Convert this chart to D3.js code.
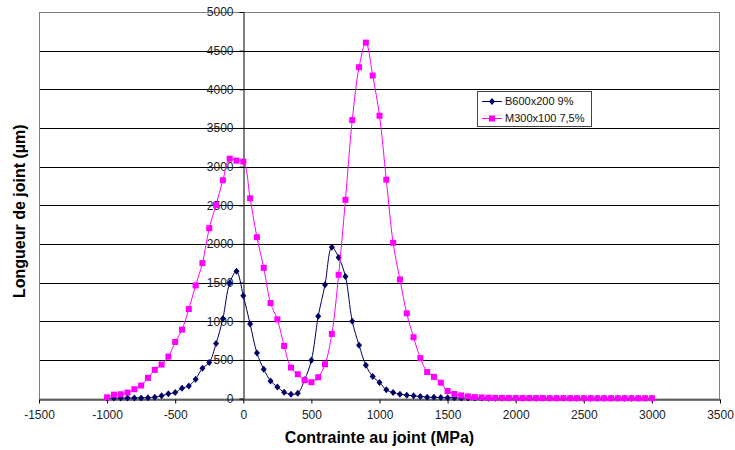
<!DOCTYPE html>
<html>
<head>
<meta charset="utf-8">
<script src="https://cdn.jsdelivr.net/npm/d3@7"></script>
<style>
  html, body { margin: 0; padding: 0; background: #fff; }
  svg { display: block; }
  text { font-family: "Liberation Sans", Arial, sans-serif; }
</style>
</head>
<body>
<svg id="chart" width="735" height="450"></svg>
<script>
// ---- data ----
const stress = [-1000,-950,-900,-850,-800,-750,-700,-650,-600,-550,-500,-450,-400,-350,-300,-250,-200,-150,-100,-50,
  0,50,100,150,200,250,300,350,400,450,500,550,600,650,700,750,800,850,900,950,
  1000,1050,1100,1150,1200,1250,1300,1350,1400,1450,1500,1550,1600,1650,1700,1750,1800,1850,1900,1950,
  2000,2050,2100,2150,2200,2250,2300,2350,2400,2450,2500,2550,2600,2650,2700,2750,2800,2850,2900,2950,3000];

const seriesB = [3,5,5,5,8,8,10,17,35,60,77,133,163,250,392,465,710,1033,1493,1645,
  1330,964,590,379,228,150,82,56,69,241,495,1063,1472,1958,1825,1578,1000,690,430,284,
  207,112,77,56,43,34,26,17,15,12,11,9,8,7,6,5,4,4,4,3,
  3,3,3,3,3,3,2,2,2,2,2,2,2,2,2,2,2,2,2,2,2];

const seriesM = [15,50,55,77,120,168,267,370,439,542,731,891,1157,1463,1751,2203,2504,2823,3102,3077,
  3064,2590,2087,1691,1235,1024,680,400,314,237,211,275,443,835,1600,2570,3602,4286,4604,4178,
  3658,2831,2014,1540,1102,792,522,342,280,205,97,58,40,27,18,14,10,8,7,6,
  6,5,5,5,5,4,4,4,4,4,4,3,3,3,3,3,3,3,3,3,3];

const seriesNames = ["B600x200 9%", "M300x100 7,5%"];
const xTicks = [-1500,-1000,-500,0,500,1000,1500,2000,2500,3000,3500];
const yTicks = [0,500,1000,1500,2000,2500,3000,3500,4000,4500,5000];
const xTitle = "Contrainte au joint (MPa)";
const yTitle = "Longueur de joint (µm)";

// ---- layout ----
const svg = d3.select("#chart");
const L = 39, R = 720, T = 12, B = 398.5;
const x = d3.scaleLinear().domain([-1500, 3500]).range([L, R]);
const y = d3.scaleLinear().domain([0, 5000]).range([B, T]);
const navy = "#000066", magenta = "#FF00FF";

svg.append("rect").attr("width", 735).attr("height", 450).attr("fill", "#fff");

// gridlines
svg.append("g").selectAll("line").data(yTicks.filter(d => d > 0 && d < 5000)).join("line")
  .attr("x1", L).attr("x2", R)
  .attr("y1", d => Math.round(y(d)) + 0.5).attr("y2", d => Math.round(y(d)) + 0.5)
  .attr("stroke", "#000").attr("stroke-width", 1);

// plot border
svg.append("rect").attr("x", L + 0.5).attr("y", T + 0.5)
  .attr("width", R - L - 1).attr("height", B - T)
  .attr("fill", "none").attr("stroke", "#808080").attr("stroke-width", 1);

// axes
const fmt = d => String(d);
const yAxis = d3.axisLeft(y).tickValues(yTicks).tickFormat(fmt).tickSizeInner(4).tickSizeOuter(0).tickPadding(6);
const xAxis = d3.axisBottom(x).tickValues(xTicks).tickFormat(fmt).tickSizeInner(4).tickSizeOuter(0).tickPadding(7);

const gy = svg.append("g").attr("transform", `translate(${Math.round(x(0)) + 0.5},0)`).call(yAxis);
const gx = svg.append("g").attr("transform", `translate(0,${Math.round(y(0)) + 0.5})`).call(xAxis);
[gx, gy].forEach(g => {
  g.select(".domain").attr("stroke", "#000");
  g.selectAll(".tick line").attr("stroke", "#000");
  g.selectAll(".tick text").attr("fill", "#222").style("font-size", "12px")
    .style("font-family", '"Liberation Sans", Arial, sans-serif');
});

// series
const line = d3.line().x((d, i) => x(stress[i])).y(d => y(d)).curve(d3.curveCatmullRom.alpha(0.5));

svg.append("path").datum(seriesB).attr("d", line)
  .attr("fill", "none").attr("stroke", navy).attr("stroke-width", 1);
const diamond = "M0,-3.5L3,0L0,3.5L-3,0Z";
svg.append("g").selectAll("path").data(seriesB).join("path")
  .attr("d", diamond)
  .attr("transform", (d, i) => `translate(${x(stress[i])},${y(d)})`)
  .attr("fill", navy);

svg.append("path").datum(seriesM).attr("d", line)
  .attr("fill", "none").attr("stroke", magenta).attr("stroke-width", 1);
svg.append("g").selectAll("rect").data(seriesM).join("rect")
  .attr("x", (d, i) => x(stress[i]) - 3).attr("y", d => y(d) - 3)
  .attr("width", 6).attr("height", 6)
  .attr("fill", magenta);

// axis titles
svg.append("text").attr("x", (L + R) / 2).attr("y", 443)
  .attr("text-anchor", "middle").attr("font-weight", "bold").attr("font-size", 16)
  .attr("fill", "#000").text(xTitle);
svg.append("text").attr("transform", `translate(25,${(T + B) / 2 + 6}) rotate(-90)`)
  .attr("text-anchor", "middle").attr("font-weight", "bold").attr("font-size", 16)
  .attr("fill", "#000").text(yTitle);

// legend
const lg = svg.append("g");
lg.append("rect").attr("x", 477.5).attr("y", 91.5).attr("width", 114).attr("height", 35)
  .attr("fill", "#fff").attr("stroke", "#444").attr("stroke-width", 1);
const legendRows = [
  { name: seriesNames[0], color: navy, shape: "diamond" },
  { name: seriesNames[1], color: magenta, shape: "square" }
];
legendRows.forEach((r, i) => {
  const cy = 101 + i * 17;
  lg.append("line").attr("x1", 482).attr("x2", 502).attr("y1", cy + 0.5).attr("y2", cy + 0.5)
    .attr("stroke", r.color).attr("stroke-width", 1);
  if (r.shape === "diamond") {
    lg.append("path").attr("d", diamond).attr("transform", `translate(492,${cy + 0.5})`).attr("fill", r.color);
  } else {
    lg.append("rect").attr("x", 489).attr("y", cy - 2.5).attr("width", 6).attr("height", 6).attr("fill", r.color);
  }
  lg.append("text").attr("x", 505).attr("y", cy + 4).attr("font-size", 11).attr("fill", "#111").text(r.name);
});
</script>
</body>
</html>
